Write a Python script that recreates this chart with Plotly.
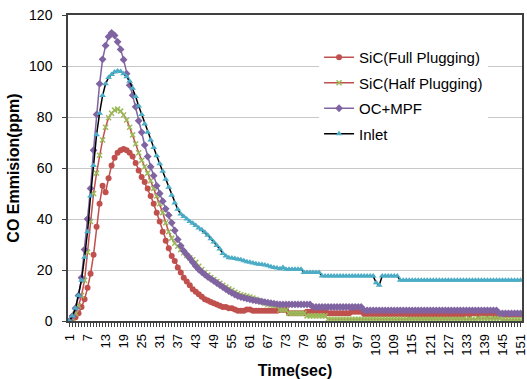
import plotly.graph_objects as go

time_sec = list(range(1, 152))

sic_full = [
    0, 0.5, 1.5, 3, 5.5, 8.5, 13, 18.5, 26, 37,
    46, 53, 50.5, 56, 61, 64, 66, 67, 67.5, 67,
    66, 64.5, 62, 59, 56.5, 54.5, 52, 49, 46, 42.5,
    39, 35, 31.5, 28.5, 25.5, 23.5, 21, 19, 17, 15.5,
    14, 12.5, 11.5, 10.5, 9.5, 8.5, 8, 7.5, 7, 6.5,
    6, 5.5, 5.5, 5, 5, 4.5, 4, 4, 4, 4.5,
    4.5, 4, 4, 4, 4, 4, 4, 4, 4, 4,
    4.3, 4.3, 4.3, 3, 3, 3, 3, 3, 3, 3.6,
    3.6, 3.6, 3.6, 3.6, 3.6, 3.6, 3, 3, 3, 3,
    3, 3, 3, 3, 3.6, 3.6, 3.6, 3.6, 2.7, 2.7,
    2.7, 2.7, 2.7, 2.7, 2.7, 2.7, 2.7, 2.7, 2.7, 2.7,
    2.7, 2.7, 2.7, 2.5, 2.5, 2.5, 2.5, 2.5, 2.5, 2.5,
    2.5, 2.5, 2.5, 2.5, 2.5, 2.5, 2.5, 2.5, 2.5, 2.5,
    2.5, 2.5, 3, 2.5, 3, 3, 2.5, 3, 3, 2.5,
    3, 2.5, 2.5, 2.5, 2.5, 2.5, 2.5, 2.5, 2.5, 2.5,
    2.5,
]

sic_half = [
    0, 1, 3, 6, 10, 16, 27, 39, 50, 58,
    65, 71, 76, 79.7, 81.5, 82.7, 83.1, 82.3, 80.8, 78.8,
    76, 73, 69.5, 66, 63, 60.5, 58, 55, 52, 49,
    46, 42.5, 38.5, 35, 32.5, 30.5, 29.3, 28, 26.8, 25.7,
    24.8, 24, 23, 21.5, 20.2, 19, 18, 17, 16.3, 15.5,
    14.8, 14, 13.3, 12.6, 12, 11.3, 10.8, 10.3, 10, 9.7,
    9.4, 9, 8.5, 8, 7.5, 7, 6.5, 6.3, 6.2, 6,
    4.3, 4.3, 4.3, 3, 3, 3, 3, 3, 3, 2,
    2, 2, 2, 2, 2, 2, 0.7, 0.7, 0.7, 0.7,
    0.7, 0.7, 0.7, 0.7, 0.7, 0.7, 0.7, 0.7, 0.7, 0.7,
    0.7, 0.7, 0.7, 0.7, 0.7, 0.7, 0.7, 0.7, 0.7, 0.7,
    0.7, 0.7, 0.7, 0.7, 0.7, 0.7, 0.7, 0.7, 0.7, 0.7,
    0.7, 0.7, 0.7, 0.7, 0.7, 0.7, 0.7, 0.7, 0.7, 0.7,
    0.7, 0.7, 0.7, 0.7, 0.7, 0.7, 1, 1, 1, 1,
    1, 1, 1, 1, 0.5, 0.5, 0.5, 0.5, 0.5, 0.5,
    0.5,
]

oc_mpf = [
    0, 2, 5, 10, 17, 28, 40, 52, 67, 81,
    93, 102.6, 108, 111.5, 113, 112, 109.5, 106.5, 102.5, 97,
    92.5, 88.5, 84, 78.5, 74, 69, 64.5, 60.5, 57, 53,
    50, 47, 44, 41.5, 38.5, 35.5, 32, 29.5, 27.5, 26,
    24.6, 23, 21.5, 20.2, 19.2, 18.2, 17.3, 16.5, 15.7, 14.9,
    14.1, 13.3, 12.5, 11.7, 11, 10.4, 9.8, 9.4, 9.1, 8.8,
    8.5, 8.2, 8, 7.8, 7.6, 7.4, 7.2, 7, 6.8, 6.6,
    6.5, 6.5, 6.5, 6.5, 6.5, 6.5, 6.5, 6.5, 6.5, 6.5,
    6.5, 5.5, 5.5, 5.5, 5.5, 5.5, 5.5, 5.5, 5.5, 5.5,
    5.5, 5.5, 5.5, 5.5, 5.5, 5.5, 5.5, 5.5, 4.2, 4.2,
    4.2, 4.2, 4.2, 4.2, 4.2, 4.2, 4.2, 4.2, 4.2, 4.2,
    4.2, 4.2, 4.2, 4.2, 4.2, 4.2, 4.2, 4.2, 4.2, 4.2,
    4.2, 4.2, 4.2, 4.2, 4.2, 4.2, 4.2, 4.2, 4.2, 4.2,
    4.2, 4.2, 4.2, 4.2, 4.2, 4.2, 4.2, 4.2, 4.2, 4.2,
    4.2, 4.2, 4.2, 3, 3, 3, 3, 3, 3, 3,
    3,
]

inlet = [
    0, 2, 5, 10, 16, 25, 35, 49, 61, 73,
    81.5, 88.4, 93, 95.5, 96.7, 97.6, 98, 97.8, 97, 95.8,
    94, 91.3, 88, 84.3, 81, 77.3, 74, 71, 68, 64.8,
    61.7, 58.7, 55.6, 52.5, 49.3, 46.3, 43.8, 42, 41, 40,
    39, 38.3, 37.5, 36.5, 35.8, 34.8, 33.6, 32.3, 31, 29.6,
    28.2, 26.5, 25.5, 24.8, 24.7, 24.5, 24.2, 24, 23.6, 23.2,
    23, 22.7, 22.5, 22.3, 22.2, 22, 21.7, 21.3, 21, 20.8,
    20.5, 21, 20.3, 20.3, 20.3, 20.3, 20.3, 20.3, 19, 19,
    19, 19, 19, 19, 17.6, 17.6, 17.6, 17.6, 17.6, 17.6,
    17.6, 17.6, 17.6, 17.6, 17.6, 17.6, 17.6, 17.6, 17.6, 17.6,
    17.6, 17.6, 15, 14, 17.6, 17.6, 17.6, 17.6, 17.6, 17.6,
    16, 16, 16, 16, 16, 16, 16, 16, 16, 16,
    16, 16, 16, 16, 16, 16, 16, 16, 16, 16,
    16, 16, 16, 16, 16, 16, 16, 16, 16, 16,
    16, 16, 16, 16, 16, 16, 16, 16, 16, 16,
    16,
]

x_tick_labels = [str(v) for v in range(1, 152, 6)]
x_tick_vals = list(range(1, 152, 6))

FONT = "Liberation Sans, Arial, sans-serif"
RED = "#C0504D"
GREEN = "#9BBB59"
PURPLE = "#8064A2"
CYAN = "#4BACC6"

fig = go.Figure()
fig.add_trace(go.Scatter(
    x=time_sec, y=sic_full, mode="lines+markers", name="SiC(Full Plugging)",
    legendgroup="a",
    line=dict(color=RED, width=1.5),
    marker=dict(symbol="circle", size=6, color=RED),
))
fig.add_trace(go.Scatter(
    x=time_sec, y=sic_half, mode="lines+markers", name="SiC(Half Plugging)",
    legendgroup="b",
    line=dict(color=RED, width=1.5),
    marker=dict(symbol="x-thin", size=5, color=GREEN, line=dict(width=1.5, color=GREEN)),
))
fig.add_trace(go.Scatter(
    x=time_sec, y=oc_mpf, mode="lines+markers", name="OC+MPF",
    legendgroup="c",
    line=dict(color=PURPLE, width=1.5),
    marker=dict(symbol="diamond", size=6, color=PURPLE),
))
fig.add_trace(go.Scatter(
    x=time_sec, y=inlet, mode="lines+markers", name="Inlet",
    legendgroup="d",
    line=dict(color="black", width=1.5),
    marker=dict(symbol="triangle-up", size=6, color=CYAN),
))

fig.update_layout(
    width=527, height=379,
    margin=dict(l=68, r=5, t=15, b=58),
    paper_bgcolor="white", plot_bgcolor="white",
    font=dict(family=FONT, size=14, color="black"),
    showlegend=True,
    legend=dict(
        x=0.553, y=0.915, xanchor="left", yanchor="top",
        bgcolor="white", borderwidth=0,
        font=dict(size=15), itemwidth=30, tracegroupgap=3,
    ),
    xaxis=dict(
        range=[0.5, 151.5], automargin=False,
        tickmode="array", tickvals=x_tick_vals, ticktext=x_tick_labels,
        tickangle=-90, tickfont=dict(size=13), ticklabelstandoff=2,
        ticklabeloverflow="allow",
        ticks="outside", ticklen=4, tickcolor="#404040",
        minor=dict(tickmode="linear", tick0=1, dtick=1, ticks="outside", ticklen=4, tickcolor="#404040"),
        showline=True, linecolor="#404040", linewidth=1.5, mirror=True,
        showgrid=False, zeroline=False,
        title=dict(text="<b>Time(sec)</b>", font=dict(size=16), standoff=10),
    ),
    yaxis=dict(
        range=[0, 120], dtick=20, tickfont=dict(size=14), automargin=False,
        ticks="outside", ticklen=4, tickcolor="#404040", ticklabelstandoff=7,
        ticklabeloverflow="allow",
        showline=True, linecolor="#404040", linewidth=1.5, mirror=True,
        showgrid=True, gridcolor="#C8C8C8", gridwidth=1, zeroline=False,
        title=dict(text="<b>CO Emmision(ppm)</b>", font=dict(size=16), standoff=5),
    ),
)

fig.write_html(
    "out.html",
    config={"displayModeBar": False},
    post_script=(
        "document.body.style.margin='0';"
        "document.body.style.padding='0';"
        "document.documentElement.style.overflow='hidden';"
        "document.body.style.overflow='hidden';"
    ),
)
